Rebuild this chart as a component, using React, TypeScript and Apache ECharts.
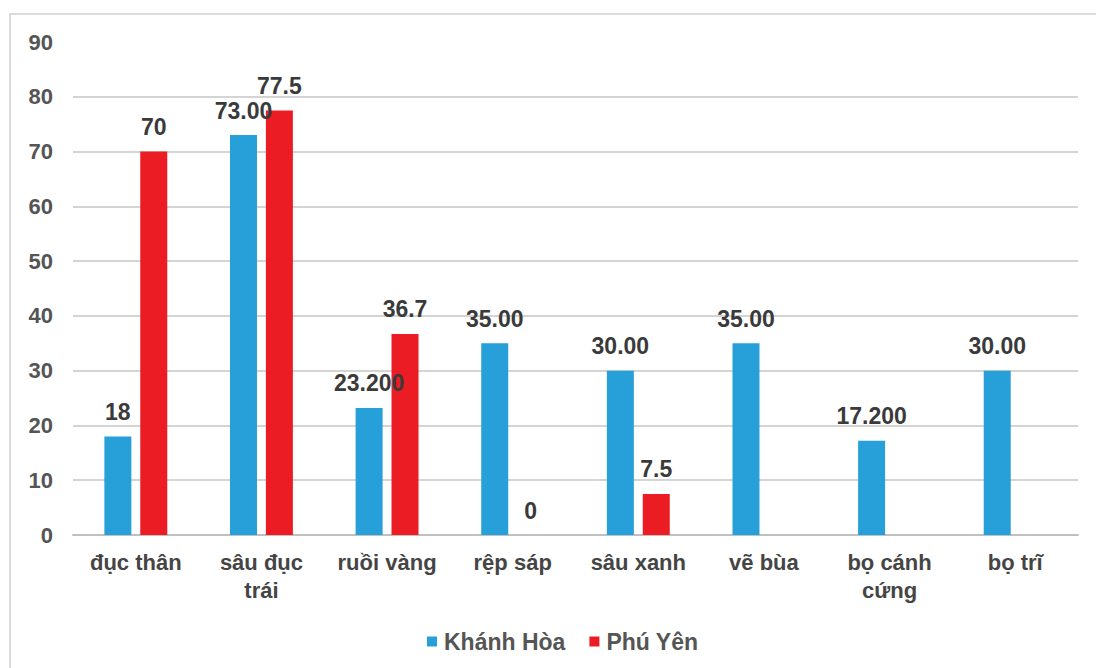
import React, { useEffect, useRef } from "react";
import * as echarts from "echarts";

const categories = [
  "đục thân",
  "sâu đục\ntrái",
  "ruồi vàng",
  "rệp sáp",
  "sâu xanh",
  "vẽ bùa",
  "bọ cánh\ncứng",
  "bọ trĩ",
];

const khanhHoa = [18, 73, 23.2, 35, 30, 35, 17.2, 30];
const khanhHoaLabels = ["18", "73.00", "23.200", "35.00", "30.00", "35.00", "17.200", "30.00"];

const phuYen: (number | null)[] = [70, 77.5, 36.7, 0, 7.5, null, null, null];
const phuYenLabels = ["70", "77.5", "36.7", "0", "7.5", "", "", ""];

const yTicks = [0, 10, 20, 30, 40, 50, 60, 70, 80, 90];

const FONT = "'Liberation Sans', Arial, sans-serif";

export default function App() {
  const ref = useRef<HTMLDivElement>(null);

  useEffect(() => {
    if (!ref.current) return;
    const chart = echarts.init(ref.current, undefined, { renderer: "svg" });

    // grid lines for every tick except the top one
    const gridColors = yTicks.map((t, i) => (i === yTicks.length - 1 ? "rgba(0,0,0,0)" : "#c6c6c6"));

    const labelStyle = {
      show: true,
      position: "top" as const,
      distance: 13,
      fontFamily: FONT,
      fontWeight: "bold" as const,
      fontSize: 23,
      color: "#3a3a3a",
    };

    chart.setOption({
      animation: false,
      backgroundColor: "#ffffff",
      graphic: [
        {
          type: "rect",
          shape: { x: 10, y: 14, width: 1100, height: 700 },
          style: { fill: "none", stroke: "#d0d0d0", lineWidth: 1.5 },
          silent: true,
        },
      ],
      grid: { left: 73, right: 18, top: 42, bottom: 133 },
      legend: {
        top: 625,
        left: 422,
        itemWidth: 10,
        itemHeight: 10,
        itemGap: 24,
        icon: "rect",
        textStyle: { fontFamily: FONT, fontWeight: "bold", fontSize: 23, color: "#555555", padding: [0, 0, 0, 2] },
        data: ["Khánh Hòa", "Phú Yên"],
      },
      xAxis: {
        type: "category",
        data: categories,
        axisTick: { show: false },
        axisLine: { lineStyle: { color: "#c0c0c0", width: 2 } },
        axisLabel: {
          margin: 13,
          fontFamily: FONT,
          fontWeight: "bold",
          fontSize: 22,
          lineHeight: 28,
          color: "#454545",
          interval: 0,
        },
      },
      yAxis: {
        type: "value",
        min: 0,
        max: 90,
        interval: 10,
        axisLine: { show: false },
        axisTick: { show: false },
        axisLabel: {
          margin: 20,
          fontFamily: FONT,
          fontWeight: "bold",
          fontSize: 22,
          color: "#555555",
        },
        splitLine: { show: true, lineStyle: { color: gridColors, width: 1.5 } },
      },
      series: [
        {
          name: "Khánh Hòa",
          type: "bar",
          data: khanhHoa,
          barWidth: 27,
          barGap: "33%",
          itemStyle: { color: "#27a0da" },
          label: { ...labelStyle, formatter: (p: any) => khanhHoaLabels[p.dataIndex] },
        },
        {
          name: "Phú Yên",
          type: "bar",
          data: phuYen,
          barWidth: 27,
          barGap: "33%",
          itemStyle: { color: "#ec1c24" },
          label: { ...labelStyle, formatter: (p: any) => phuYenLabels[p.dataIndex] },
        },
      ],
    });

    return () => chart.dispose();
  }, []);

  return (
    <div
      ref={ref}
      style={{ position: "fixed", left: 0, top: 0, width: 1096, height: 668, background: "#fff" }}
    />
  );
}
